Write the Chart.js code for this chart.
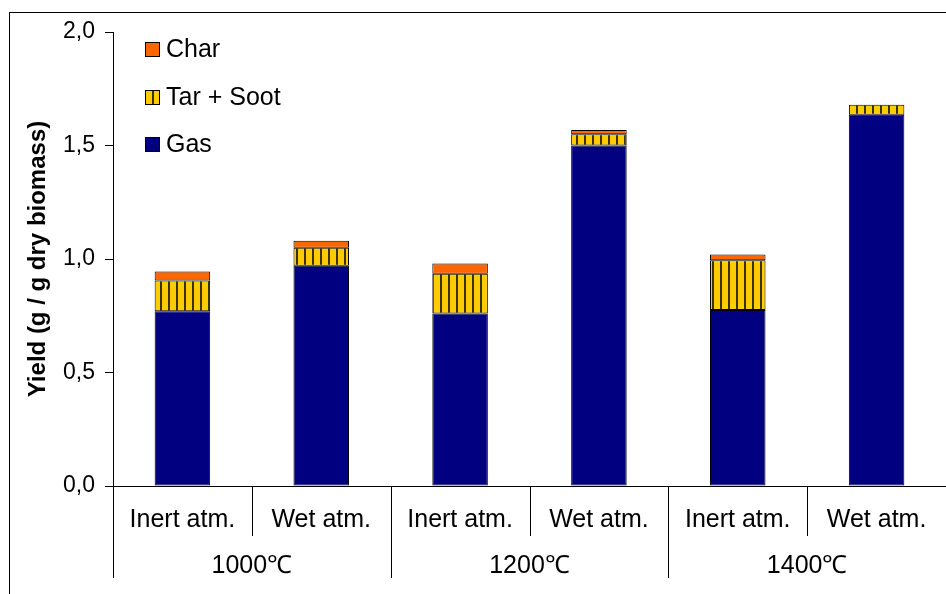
<!DOCTYPE html>
<html>
<head>
<meta charset="utf-8">
<script src="https://cdn.jsdelivr.net/npm/chart.js@4"></script>
<style>
  html, body { margin: 0; padding: 0; background: #fff; overflow: hidden; }
  #wrap { position: relative; width: 946px; height: 594px; }
  #frame { position: absolute; left: 9px; top: 12px; width: 960px; height: 620px; border: 1px solid #000; pointer-events: none; }
  canvas { position: absolute; left: 0; top: 0; }
</style>
</head>
<body>
<div id="wrap">
  <canvas id="viz" width="946" height="594"></canvas>
  <div id="frame"></div>
</div>
<script>
// data
const conditions = ['Inert atm.', 'Wet atm.', 'Inert atm.', 'Wet atm.', 'Inert atm.', 'Wet atm.'];
const temps = ['1000\u2103', '1200\u2103', '1400\u2103'];
const gas = [0.77, 0.97, 0.76, 1.50, 0.775, 1.635];
const tarSoot = [0.135, 0.08, 0.175, 0.05, 0.22, 0.045];
const charY = [0.04, 0.03, 0.045, 0.018, 0.025, null];

const FONT = '"Liberation Sans", Arial, sans-serif';

// striped fill for tar + soot
function stripes(){
  const c = document.createElement('canvas');
  c.width = 8; c.height = 8;
  const g = c.getContext('2d');
  g.fillStyle = '#FFCC00';
  g.fillRect(0, 0, 8, 8);
  g.fillStyle = '#3a3300';
  g.fillRect(0, 0, 2, 8);
  return g.createPattern(c, 'repeat');
}
const tarFill = stripes();

const legendItems = [
  { label: 'Char', fill: '#FF6600' },
  { label: 'Tar + Soot', fill: tarFill },
  { label: 'Gas', fill: '#000080' }
];
const legendY = [49, 97, 144];

const legendPlugin = {
  id: 'boxLegend',
  afterDraw(chart){
    const ctx = chart.ctx;
    ctx.save();
    ctx.font = '25px ' + FONT;
    ctx.textBaseline = 'middle';
    legendItems.forEach((it, i) => {
      const y = legendY[i];
      ctx.fillStyle = it.fill;
      ctx.fillRect(145, y - 7, 15, 15);
      ctx.strokeStyle = '#000';
      ctx.lineWidth = 1;
      ctx.strokeRect(145.5, y - 6.5, 14, 14);
      ctx.fillStyle = '#000';
      ctx.fillText(it.label, 166, y + 1);
    });
    ctx.restore();
  }
};

// two-level category axis
const catPlugin = {
  id: 'catLabels',
  afterDraw(chart){
    const { ctx, chartArea, scales: { x } } = chart;
    const bottom = chartArea.bottom;
    const half = (x.getPixelForValue(1) - x.getPixelForValue(0)) / 2;
    ctx.save();
    ctx.strokeStyle = '#000';
    ctx.lineWidth = 1;
    ctx.fillStyle = '#000';
    ctx.font = '25px ' + FONT;
    ctx.textAlign = 'center';
    ctx.textBaseline = 'middle';
    const vline = (px, len) => {
      const xx = Math.round(px) + 0.5;
      ctx.beginPath();
      ctx.moveTo(xx, bottom);
      ctx.lineTo(xx, bottom + len);
      ctx.stroke();
    };
    vline(x.getPixelForValue(0) - half, 92);
    conditions.forEach((c, i) => {
      const cx = x.getPixelForValue(i);
      ctx.fillText(c, cx, bottom + 34);
      vline(cx + half, i % 2 === 1 ? 92 : 50);
    });
    temps.forEach((t, g) => {
      const cx = (x.getPixelForValue(2 * g) + x.getPixelForValue(2 * g + 1)) / 2;
      ctx.fillText(t, cx, bottom + 80);
    });
    ctx.restore();
  }
};

const chart = new Chart(document.getElementById('viz').getContext('2d'), {
  type: 'bar',
  data: {
    labels: conditions,
    datasets: [
      { label: 'Gas', data: gas, backgroundColor: '#000080', borderColor: '#000', borderWidth: 1, borderSkipped: false },
      { label: 'Tar + Soot', data: tarSoot, backgroundColor: tarFill, borderColor: '#000', borderWidth: 1, borderSkipped: false },
      { label: 'Char', data: charY, backgroundColor: '#FF6600', borderColor: '#000', borderWidth: 1, borderSkipped: false }
    ]
  },
  options: {
    responsive: false,
    animation: false,
    layout: { padding: { top: 32, right: 0, left: 0, bottom: 0 } },
    datasets: { bar: { categoryPercentage: 1, barPercentage: 0.4 } },
    plugins: { legend: { display: false }, tooltip: { enabled: false } },
    scales: {
      x: {
        stacked: true,
        ticks: { display: false },
        grid: { display: false },
        border: { display: true, color: '#000', width: 1 },
        afterFit: (s) => { s.height = 108; }
      },
      y: {
        stacked: true,
        min: 0, max: 2,
        ticks: {
          stepSize: 0.5,
          color: '#000',
          padding: 10,
          font: { family: FONT, size: 23 },
          callback: v => v.toFixed(1).replace('.', ',')
        },
        grid: { drawOnChartArea: false, tickLength: 8, tickColor: '#000', color: '#000' },
        border: { display: true, color: '#000', width: 1 },
        title: {
          display: true,
          text: 'Yield (g / g dry biomass)',
          color: '#000',
          font: { family: FONT, size: 24, weight: 'bold' },
          padding: { top: 24, bottom: 0 }
        },
        afterFit: (s) => { s.width = 113; }
      }
    }
  },
  plugins: [legendPlugin, catPlugin]
});
</script>
</body>
</html>
